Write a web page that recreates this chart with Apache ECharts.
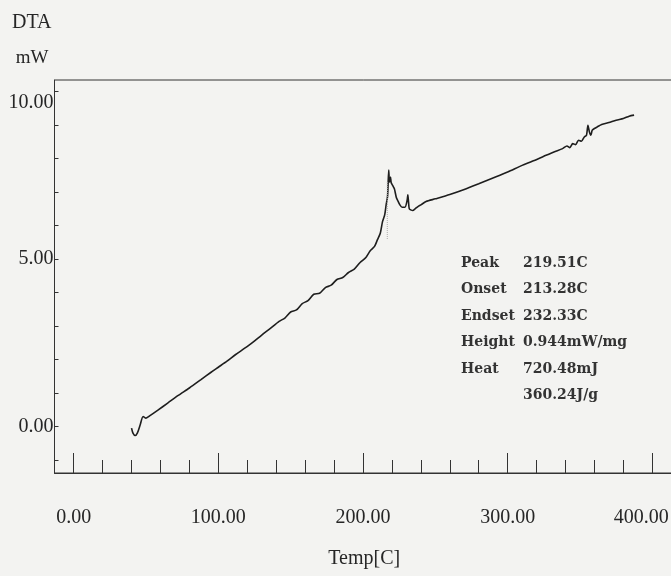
<!DOCTYPE html>
<html>
<head>
<meta charset="utf-8">
<script src="https://cdn.jsdelivr.net/npm/echarts@6/dist/echarts.min.js"></script>
<style>
html,body{margin:0;padding:0;background:#f3f3f1;}
#c{width:671px;height:576px;}
</style>
</head>
<body>
<div id="c"></div>
<script>
// Temperature [C]
var temps = [40, 41, 42.5, 44, 46, 48, 50, 53, 58, 65, 72, 80, 88, 95, 100, 106, 112, 118, 124, 130, 136, 142, 146, 150, 154, 158, 162, 166, 170, 174, 178, 182, 186, 190, 194, 198, 202, 205, 208, 210, 212, 213.5, 215, 216, 217, 217.8, 218.3, 219, 219.5, 220.5, 221.7, 223, 224, 225.5, 227, 229, 230.5, 231, 231.5, 232, 233, 234.4, 236, 238, 240, 243.6, 250, 260, 270, 280, 292, 300, 310, 317, 325, 332, 338, 341, 343, 345, 347, 349, 351, 353, 354.5, 355.5, 356.5, 357.5, 358.5, 360, 362, 365, 370, 375, 380, 384, 387.4];
// DTA [mW]
var dta = [-0.05, -0.2, -0.27, -0.2, 0.05, 0.3, 0.25, 0.33, 0.48, 0.7, 0.92, 1.15, 1.4, 1.62, 1.77, 1.95, 2.15, 2.33, 2.52, 2.73, 2.93, 3.14, 3.24, 3.42, 3.48, 3.67, 3.76, 3.95, 3.98, 4.15, 4.22, 4.39, 4.45, 4.6, 4.7, 4.9, 5.05, 5.25, 5.38, 5.58, 5.78, 6.12, 6.32, 6.62, 6.88, 7.66, 7.3, 7.45, 7.28, 7.2, 7.1, 6.85, 6.75, 6.62, 6.55, 6.55, 6.75, 6.92, 6.7, 6.5, 6.47, 6.45, 6.5, 6.57, 6.62, 6.72, 6.8, 6.93, 7.08, 7.25, 7.46, 7.6, 7.8, 7.92, 8.07, 8.2, 8.3, 8.38, 8.33, 8.45, 8.42, 8.55, 8.52, 8.65, 8.7, 9.0, 8.8, 8.7, 8.85, 8.9, 8.95, 9.02, 9.08, 9.15, 9.2, 9.27, 9.3];
// faint construction line near peak
var baseTemps = [216.8, 216.8];
var baseDta = [5.6, 7.3];

var xLabelTicks = [0, 100, 200, 300, 400];
var xMinorTicks = [20, 40, 60, 80, 120, 140, 160, 180, 220, 240, 260, 280, 320, 340, 360, 380];
var yTicks = [-1, 0, 1, 2, 3, 4, 5, 6, 7, 8, 9, 10];
var yLabelTicks = [0, 5, 10];

var infoLabels = ['Peak', 'Onset', 'Endset', 'Height', 'Heat', ''];
var infoValues = ['219.51C', '213.28C', '232.33C', '0.944mW/mg', '720.48mJ', '360.24J/g'];

var serif = '"Liberation Serif", "DejaVu Serif", serif';
var ink = '#262626';

var chart = echarts.init(document.getElementById('c'), null, {renderer: 'canvas'});

var curve = temps.map(function (t, i) { return [t, dta[i]]; });
var base = baseTemps.map(function (t, i) { return [t, baseDta[i]]; });

var graphics = [];
infoLabels.forEach(function (lab, i) {
  var y = 256 + i * 26.5;
  if (lab) {
    graphics.push({type: 'text', left: 461, top: y, style: {text: lab, font: 'bold 14px "DejaVu Serif"', fill: '#333'}});
  }
  graphics.push({type: 'text', left: 523, top: y, style: {text: infoValues[i], font: 'bold 14px "DejaVu Serif"', fill: '#333'}});
});

chart.setOption({
  backgroundColor: '#f3f3f1',
  animation: false,
  title: {
    text: 'DTA', left: 7, top: 8,
    textStyle: {fontFamily: serif, fontSize: 20, fontWeight: 'normal', color: ink}
  },
  grid: {left: 54.5, top: 80, right: -3, bottom: 103, show: true, borderColor: '#333', borderWidth: 1,
    backgroundColor: 'transparent', containLabel: false, outerBoundsMode: 'none'},
  xAxis: [{
    type: 'value', min: -13.25, max: 415, position: 'bottom',
    name: 'Temp[C]', nameLocation: 'middle', nameGap: 76,
    nameTextStyle: {fontFamily: serif, fontSize: 20, color: ink},
    splitLine: {show: false},
    axisLine: {show: true, onZero: false, lineStyle: {color: '#333', width: 1}},
    axisTick: {show: true, inside: true, length: 20, customValues: xLabelTicks, lineStyle: {color: '#333'}},
    axisLabel: {show: true, customValues: xLabelTicks, margin: 35, fontFamily: serif, fontSize: 20, color: ink,
      hideOverlap: false,
      formatter: function (v) { return v === 400 ? '{r|400.00}' : v.toFixed(2); },
      rich: {r: {fontFamily: serif, fontSize: 20, color: ink, padding: [0, 22, 0, 0]}}}
  }, {
    type: 'value', min: -13.25, max: 415, position: 'bottom',
    splitLine: {show: false},
    axisLine: {show: false, onZero: false},
    axisTick: {show: true, inside: true, length: 13, customValues: xMinorTicks, lineStyle: {color: '#333'}},
    axisLabel: {show: false}
  }],
  yAxis: {
    type: 'value', min: -1.39, max: 10.35,
    name: 'mW', nameLocation: 'end', nameGap: 12,
    nameTextStyle: {fontFamily: serif, fontSize: 19, color: ink, padding: [0, 45, 0, 0]},
    splitLine: {show: false},
    axisLine: {show: true, onZero: false, lineStyle: {color: '#333', width: 1}},
    axisTick: {show: true, inside: true, length: 4, customValues: yTicks, lineStyle: {color: '#333'}},
    axisLabel: {show: true, customValues: yLabelTicks, margin: 1, fontFamily: serif, fontSize: 20, color: ink,
      formatter: function (v) { return v === 10 ? '{t|10.00}' : v.toFixed(2); },
      rich: {t: {fontFamily: serif, fontSize: 20, color: ink, padding: [22, 0, 0, 0]}}}
  },
  graphic: graphics,
  series: [{
    type: 'line', data: curve, xAxisIndex: 0, showSymbol: false, smooth: 0.25,
    lineStyle: {color: '#1e1e1e', width: 1.6}
  }, {
    type: 'line', data: base, xAxisIndex: 0, showSymbol: false,
    lineStyle: {color: '#aaa', width: 1, type: 'dotted'}
  }]
});
</script>
</body>
</html>
